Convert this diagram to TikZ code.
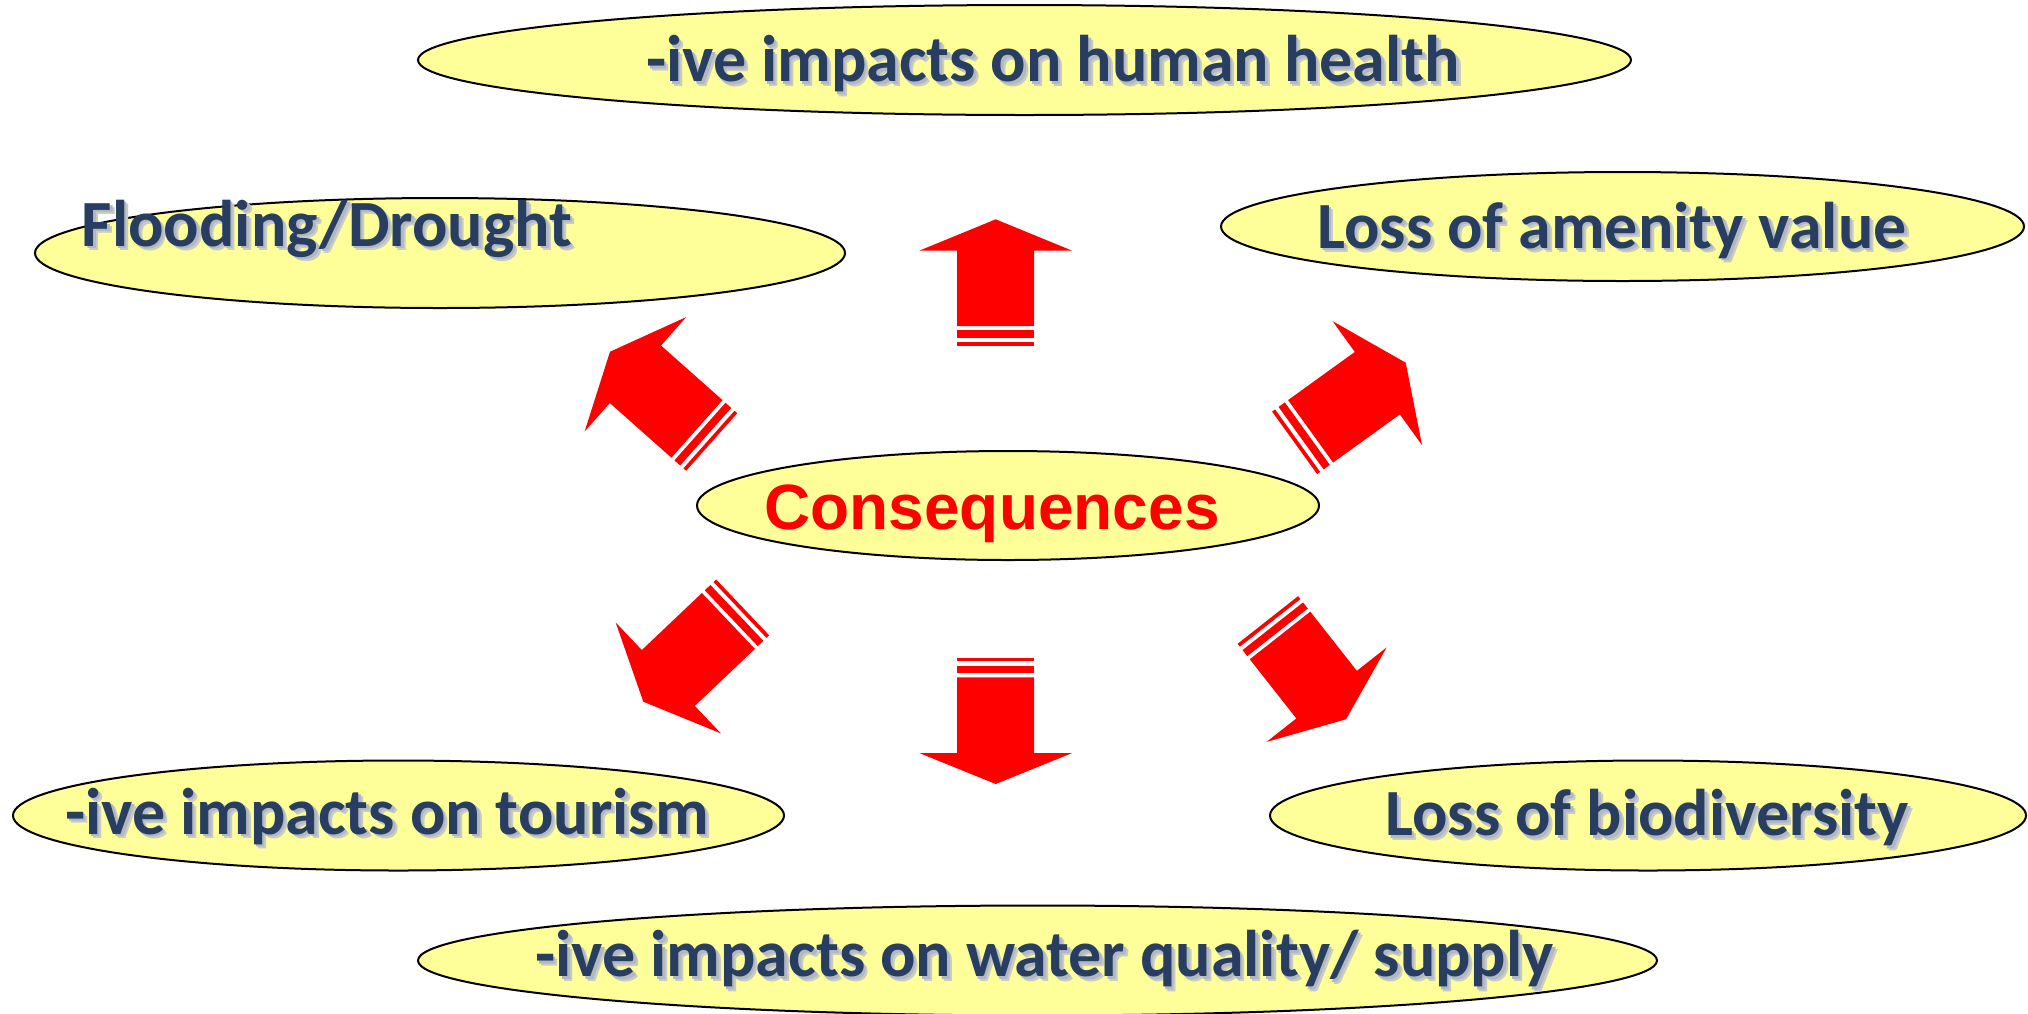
\documentclass[tikz,border=0pt]{standalone}
\usepackage{fontspec}
\usetikzlibrary{shapes.geometric}
\newfontfamily\calib{Carlito}
\newfontfamily\arialb{Liberation Sans}
\definecolor{ellfill}{RGB}{255,255,153}
\definecolor{txtblue}{RGB}{39,62,98}
\definecolor{shadowa}{RGB}{200,204,196}
\definecolor{shadowb}{RGB}{178,184,190}
\definecolor{arrowred}{RGB}{255,0,0}
% text with a soft drop shadow, set in one box
\newcommand\shtext[1]{%
  \rlap{\kern4.5pt\raisebox{-4.5pt}{\textcolor{shadowa}{#1}}}%
  \rlap{\kern2.5pt\raisebox{-2.5pt}{\textcolor{shadowb}{#1}}}%
  #1}
\tikzset{
  bubble/.style={ellipse, draw=black, line width=2pt, fill=ellfill, inner sep=0pt},
  lbl/.style={anchor=base, inner sep=0pt, text=txtblue, font=\calib\bfseries\fontsize{66}{70}\selectfont},
}
% block arrow: #1 tip x, #2 tip y, #3 rotation, #4 head length, #5 total length
\newcommand\blockarrow[5]{%
  \begin{scope}[shift={(#1,#2)}, rotate=#3]
    \fill[arrowred] (0,0) -- (76.5,#4) -- (38.5,#4) -- (38.5,#5-19.7) -- (-38.5,#5-19.7)
      -- (-38.5,#4) -- (-76.5,#4) -- cycle;
    \fill[arrowred] (-38.5,#5-15.7) rectangle (38.5,#5-8);
    \fill[arrowred] (-38.5,#5-3.7) rectangle (38.5,#5);
  \end{scope}}
\begin{document}
\begin{tikzpicture}[x=1pt,y=-1pt]
\useasboundingbox (0,0) rectangle (2028,1013);
\fill[white] (0,0) rectangle (2028,1013);

% ellipses
\node[bubble, minimum width=1213pt, minimum height=110pt] (health) at (1024.5,60) {};
\node[bubble, minimum width=810pt, minimum height=110pt] (flood) at (440,253) {};
\node[bubble, minimum width=803pt, minimum height=109pt] (amenity) at (1622.5,226.5) {};
\node[bubble, minimum width=622pt, minimum height=109pt] (cons) at (1008,505.5) {};
\node[bubble, minimum width=771pt, minimum height=110pt] (tourism) at (398.5,815.5) {};
\node[bubble, minimum width=756pt, minimum height=110pt] (bio) at (1648,815.5) {};
\node[bubble, minimum width=1239pt, minimum height=110pt] (water) at (1037.5,960.5) {};

% texts
\node[lbl] (thealth) at (1053,81.5) {\shtext{-ive impacts on human health}};
\node[lbl] (tflood) at (327,246) {\shtext{Flooding/Drought}};
\node[lbl] (tamenity) at (1612,248) {\shtext{Loss of amenity value}};
\node[anchor=base, inner sep=0pt, text=arrowred, font=\arialb\bfseries\fontsize{64}{70}\selectfont] (tcons) at (992,529) {Consequences};
\node[lbl] (ttourism) at (387,834) {\shtext{-ive impacts on tourism}};
\node[lbl] (tbio) at (1647,835.5) {\shtext{Loss of biodiversity}};
\node[lbl] (twater) at (1044.5,976.5) {\shtext{-ive impacts on water quality/ supply}};

% arrows
\blockarrow{995.7}{219.3}{0}{31.4}{126.4}
\blockarrow{995.7}{784}{180}{31}{126.3}
\blockarrow{610}{351.7}{48.4}{34}{136}
\blockarrow{1405.7}{362.7}{-54.2}{35}{137}
\blockarrow{643.3}{701.7}{133.5}{34.5}{137}
\blockarrow{1346}{719.3}{-141.8}{31.4}{126.4}
\end{tikzpicture}
\end{document}
